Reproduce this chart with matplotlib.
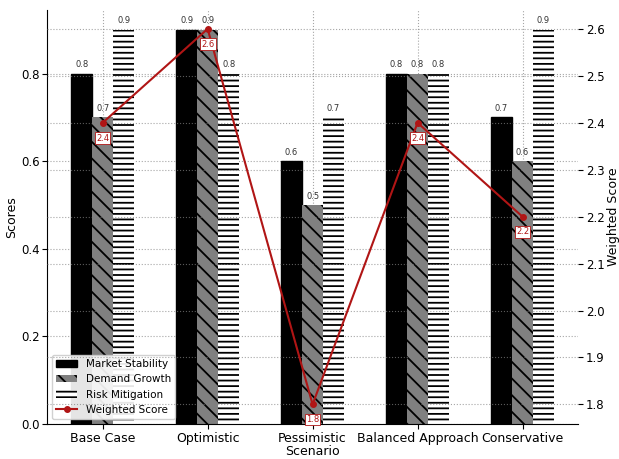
import numpy as np
import matplotlib
matplotlib.use("Agg")
import matplotlib.pyplot as plt

# chart values
scenarios = ["Base Case", "Optimistic", "Pessimistic", "Balanced Approach", "Conservative"]
market_stability = [0.8, 0.9, 0.6, 0.8, 0.7]
demand_growth = [0.7, 0.9, 0.5, 0.8, 0.6]
risk_mitigation = [0.9, 0.8, 0.7, 0.8, 0.9]
weighted_score = [2.4, 2.6, 1.8, 2.4, 2.2]

x = np.arange(len(scenarios))
w = 0.2

plt.rcParams['hatch.linewidth'] = 1.3
fig, ax = plt.subplots(figsize=(6.19, 4.59), dpi=100)
fig.subplots_adjust(left=0.076, right=0.934, top=0.978, bottom=0.076)

b1 = ax.bar(x - w, market_stability, w, color="black", edgecolor="black",
            label="Market Stability")
b2 = ax.bar(x, demand_growth, w, color="grey", edgecolor="black", hatch="\\\\",
            linewidth=0, label="Demand Growth")
b3 = ax.bar(x + w, risk_mitigation, w, color="white", edgecolor="black", hatch="---",
            linewidth=0, label="Risk Mitigation")

for bars in (b1, b2, b3):
    for bar in bars:
        ax.text(bar.get_x() + bar.get_width() / 2, bar.get_height() + 0.01,
                f"{bar.get_height():.1f}", ha="center", va="bottom",
                fontsize=6, color="#333333")

ax.set_ylim(0, 0.945)
ax.set_xticks(x)
ax.set_xticklabels(scenarios, fontsize=9)
ax.tick_params(axis="x", pad=2)
ax.tick_params(axis="y", labelsize=8.5, pad=2)
ax.set_xlabel("Scenario", fontsize=9, labelpad=0)
ax.set_ylabel("Scores", fontsize=9, labelpad=2)
ax.grid(True, linestyle=":", color="grey", alpha=0.7)
ax.set_axisbelow(True)
ax.spines["top"].set_visible(False)
ax.spines["right"].set_visible(False)

ax2 = ax.twinx()
line, = ax2.plot(x, weighted_score, color="#b01515", marker="o", markersize=4,
                 linewidth=1.5, label="Weighted Score")
for xi, yi in zip(x, weighted_score):
    ax2.annotate(f"{yi:.1f}", (xi, yi), xytext=(0, -11), textcoords="offset points",
                 ha="center", va="center", fontsize=6, color="#b01515",
                 bbox=dict(boxstyle="square,pad=0.15", fc="white", ec="#b01515", lw=0.6))
ax2.set_ylim(1.758, 2.64)
ax2.set_ylabel("Weighted Score", fontsize=9, labelpad=2)
ax2.tick_params(axis="y", labelsize=8.5, pad=2)
ax2.grid(True, linestyle=":", color="grey", alpha=0.7)
for s in ("top", "right", "left", "bottom"):
    ax2.spines[s].set_visible(False)

handles = [b1, b2, b3, line]
ax.legend(handles, [h.get_label() for h in handles], loc="lower left",
          fontsize=7.5, framealpha=0.9)

fig.savefig("out.png", dpi=100)
